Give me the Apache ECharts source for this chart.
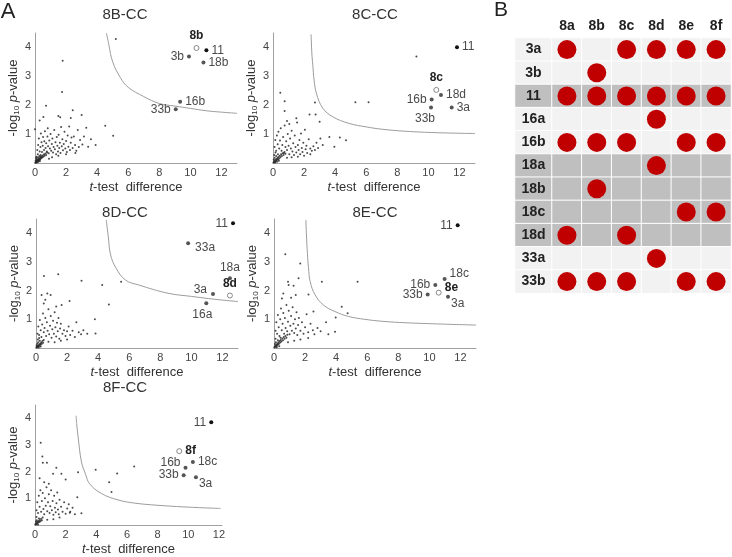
<!DOCTYPE html>
<html><head><meta charset="utf-8">
<script src="https://cdn.jsdelivr.net/npm/echarts@6/dist/echarts.min.js"></script>
<style>html,body{margin:0;padding:0;background:#fff}#c{width:732px;height:557px}</style>
</head><body><div id="c"></div>
<script>
// ---------------- DATA ----------------
const panelTitles = ['8B-CC', '8C-CC', '8D-CC', '8E-CC', '8F-CC'];
const xTickStep = 2;

const cloud8B = [
[0.02,0.01],[0.05,0.03],[0.07,0.02],[0.09,0.06],[0.11,0.04],[0.13,0.08],[0.15,0.05],[0.17,0.1],[0.19,0.07],[0.21,0.12],[0.23,0.09],[0.25,0.14],[0.27,0.1],[0.29,0.16],[0.31,0.12],[0.33,0.19],[0.35,0.14],[0.37,0.21],[0.4,0.17],[0.43,0.23],[0.46,0.19],[0.5,0.26],[0.54,0.22],[0.58,0.3],[0.62,0.25],[0.67,0.33],[0.72,0.28],[0.78,0.36],[0.04,0.08],[0.08,0.12],[0.12,0.16],[0.16,0.03],[0.2,0.2],[0.24,0.05],[0.28,0.24],[0.32,0.07],[0.36,0.28],[0.1,0.22],[0.18,0.3],[0.06,0.18],
[0.15,0.45],[0.2,0.62],[0.25,0.85],[0.3,0.4],[0.35,0.55],[0.38,1.02],[0.42,0.72],[0.45,0.38],[0.5,0.6],[0.52,0.9],[0.58,0.45],[0.6,0.75],[0.64,1.1],[0.68,0.52],[0.72,0.68],[0.76,0.4],[0.8,0.92],[0.84,0.58],[0.88,0.34],[0.92,0.78],[0.96,0.5],[1.0,1.0],[1.04,0.42],[1.08,0.66],[1.12,0.85],[1.16,0.36],[1.2,0.55],[1.24,1.14],[1.28,0.48],[1.32,0.72],[1.36,0.3],[1.4,0.9],[1.44,0.6],[1.48,0.4],[1.52,0.98],[1.56,0.52],[1.6,0.7],[1.64,0.35],[1.68,1.25],[1.72,0.58],[1.76,0.82],[1.8,0.44],[1.85,0.66],[1.9,1.08],[1.95,0.5],[2.0,0.76],[2.05,0.38],[2.1,0.95],[2.15,0.56],[2.2,1.26],[2.25,0.45],[2.3,0.7],[2.35,0.88],[2.42,0.52],[2.5,0.92],[2.58,0.62],[2.66,0.42],[2.75,1.14],[2.82,0.55],[2.9,0.8],[3.05,0.64],[3.15,0.92],[3.3,1.22],[3.42,0.56],[3.6,0.82],[3.9,0.62],[1.1,0.2],[1.5,0.25],[2.0,0.3],[2.6,0.35],[0.9,0.15],
[0.0,1.17],[0.3,1.47],[0.54,1.59],[0.71,1.98],[0.82,1.2],[1.5,1.63],[1.62,1.58],[2.3,1.56],[2.43,1.83],[3.0,1.66],[1.74,2.46],[1.78,3.54],[4.52,1.29],[5.03,0.94],[5.2,4.29]
];
const cloud8C = [
[0.03,0.02],[0.06,0.05],[0.09,0.03],[0.12,0.09],[0.15,0.06],[0.18,0.12],[0.21,0.08],[0.24,0.15],[0.27,0.11],[0.3,0.18],[0.33,0.13],[0.36,0.22],[0.4,0.16],[0.44,0.25],[0.48,0.2],[0.52,0.3],[0.57,0.24],[0.62,0.34],[0.68,0.28],[0.74,0.38],[0.8,0.32],[0.05,0.12],[0.1,0.18],[0.14,0.02],[0.2,0.24],[0.26,0.04],[0.32,0.3],[0.38,0.08],[0.08,0.28],[0.16,0.36],
[0.1,0.55],[0.15,0.8],[0.2,0.42],[0.25,0.95],[0.3,0.65],[0.35,1.08],[0.4,0.5],[0.45,0.78],[0.5,1.2],[0.55,0.42],[0.6,0.62],[0.65,0.9],[0.7,0.35],[0.75,1.3],[0.8,0.55],[0.85,0.75],[0.9,0.45],[0.95,1.0],[1.0,0.6],[1.05,0.3],[1.1,0.85],[1.15,0.5],[1.2,1.12],[1.25,0.4],[1.3,0.68],[1.35,0.28],[1.4,0.95],[1.45,0.55],[1.5,0.36],[1.55,1.4],[1.6,0.62],[1.65,0.45],[1.7,0.8],[1.75,0.3],[1.8,1.02],[1.85,0.52],[1.9,0.38],[1.95,0.7],[2.0,0.25],[2.05,1.15],[2.1,0.48],[2.15,0.6],[2.2,0.35],[2.3,0.82],[2.4,0.5],[2.5,0.42],[2.6,0.58],[2.7,0.45],[2.8,0.7],[2.9,0.52],[3.05,0.85],[3.2,0.62],[1.2,0.2],[1.6,0.22],[2.4,0.3],[0.9,0.18],
[0.47,2.43],[0.75,2.14],[0.75,1.8],[0.9,1.45],[1.05,1.35],[1.5,1.55],[2.35,1.68],[2.74,1.68],[2.7,2.09],[3.0,1.43],[3.63,0.9],[4.3,0.88],[4.7,0.79],[3.95,0.56],[5.3,2.1],[6.15,2.1],[9.23,3.69]
];
const cloud8D = [
[0.02,0.02],[0.05,0.04],[0.08,0.03],[0.1,0.07],[0.13,0.05],[0.16,0.1],[0.19,0.07],[0.22,0.13],[0.25,0.09],[0.28,0.16],[0.31,0.12],[0.34,0.2],[0.38,0.15],[0.42,0.24],[0.46,0.18],[0.5,0.28],[0.04,0.1],[0.09,0.15],[0.14,0.2],[0.18,0.02],[0.24,0.25],[0.3,0.05],[0.12,0.3],[0.2,0.35],
[0.1,0.5],[0.15,0.75],[0.2,0.45],[0.25,0.98],[0.3,0.62],[0.35,0.38],[0.4,0.82],[0.45,1.2],[0.5,0.55],[0.55,0.7],[0.6,1.05],[0.65,0.42],[0.7,0.9],[0.75,0.6],[0.8,1.35],[0.85,0.48],[0.9,0.78],[0.95,1.12],[1.0,0.36],[1.05,0.65],[1.1,0.95],[1.15,0.5],[1.2,1.25],[1.25,0.72],[1.3,0.4],[1.35,0.88],[1.4,0.58],[1.45,1.05],[1.5,0.32],[1.55,0.68],[1.6,0.85],[1.7,0.5],[1.8,0.62],[1.9,0.42],[2.0,0.58],[2.1,0.75],[2.2,0.45],[2.35,0.6],[2.5,0.38],[2.6,0.9],[2.75,0.55],[2.9,0.48],[3.05,0.62],[3.3,0.5],[3.79,1.0],[3.83,0.51],[1.2,0.2],[0.8,0.22],[1.6,0.25],[2.0,0.3],
[0.36,1.85],[0.51,2.51],[0.73,1.9],[0.94,1.85],[0.5,1.55],[0.6,1.68],[1.43,2.57],[1.65,1.5],[2.16,1.64],[1.3,1.45],[2.93,2.35],[4.26,2.2],[4.69,1.52],[5.48,2.31]
];
const cloud8E = [
[0.02,0.02],[0.05,0.05],[0.08,0.04],[0.11,0.09],[0.14,0.06],[0.17,0.12],[0.2,0.09],[0.23,0.16],[0.26,0.12],[0.29,0.2],[0.32,0.15],[0.36,0.24],[0.4,0.19],[0.44,0.28],[0.48,0.23],[0.53,0.33],[0.58,0.27],[0.63,0.38],[0.68,0.32],[0.74,0.42],[0.8,0.36],[0.86,0.46],[0.06,0.14],[0.12,0.2],[0.18,0.03],[0.25,0.27],[0.34,0.06],[0.42,0.36],[0.1,0.32],
[0.1,0.6],[0.15,0.9],[0.2,0.5],[0.25,1.15],[0.3,0.72],[0.35,0.42],[0.4,1.0],[0.45,1.38],[0.5,0.62],[0.55,0.85],[0.6,1.22],[0.65,0.5],[0.7,1.05],[0.75,0.7],[0.8,1.5],[0.85,0.58],[0.9,0.92],[0.95,1.3],[1.0,0.48],[1.05,0.78],[1.1,1.12],[1.15,0.6],[1.2,1.42],[1.25,0.85],[1.3,0.52],[1.35,1.0],[1.4,0.68],[1.45,1.25],[1.5,0.45],[1.55,0.8],[1.6,1.05],[1.7,0.6],[1.8,0.9],[1.9,0.5],[2.0,0.72],[2.1,1.18],[2.2,0.55],[2.35,0.85],[2.5,0.62],[2.6,0.48],[2.8,0.7],[3.0,0.58],[3.35,0.9],[3.5,0.48],[3.93,0.57],[0.9,0.2],[1.3,0.25],[1.7,0.3],[2.2,0.35],
[0.73,3.27],[1.69,2.95],[1.58,2.43],[0.9,2.31],[0.94,2.2],[1.26,2.17],[0.51,1.73],[0.6,1.9],[1.1,1.75],[1.4,1.85],[2.22,1.87],[2.54,1.27],[3.08,2.31],[3.97,1.06],[4.36,1.44],[4.74,1.21],[5.38,2.31]
];
const cloud8F = [
[0.02,0.02],[0.05,0.05],[0.08,0.03],[0.11,0.08],[0.14,0.06],[0.17,0.12],[0.2,0.09],[0.24,0.15],[0.28,0.11],[0.32,0.19],[0.36,0.14],[0.4,0.23],[0.45,0.18],[0.5,0.28],[0.06,0.13],[0.12,0.18],[0.2,0.02],[0.26,0.24],[0.1,0.3],
[0.1,0.55],[0.15,0.85],[0.2,0.45],[0.25,1.1],[0.3,0.68],[0.35,1.3],[0.4,0.5],[0.45,0.9],[0.5,1.2],[0.55,0.6],[0.6,0.4],[0.65,1.0],[0.7,0.72],[0.75,1.42],[0.8,0.52],[0.85,0.85],[0.9,1.15],[0.95,0.45],[1.0,0.7],[1.05,1.3],[1.1,0.55],[1.15,0.9],[1.2,0.38],[1.25,1.1],[1.3,0.65],[1.35,0.48],[1.4,0.82],[1.45,1.22],[1.5,0.58],[1.55,0.4],[1.6,0.95],[1.7,0.68],[1.8,0.5],[1.9,0.85],[2.0,0.42],[2.1,0.62],[2.2,0.78],[2.3,0.5],[2.45,0.65],[2.6,0.4],[2.76,1.04],[2.27,0.46],[3.03,0.44],[0.8,0.2],[1.2,0.22],[1.6,0.28],
[0.37,3.08],[0.48,2.57],[0.51,2.33],[0.78,2.33],[1.39,2.15],[1.72,1.92],[1.18,1.92],[2.0,1.71],[0.3,1.75],[0.6,1.6],[0.9,1.55],[2.81,1.98],[3.96,2.07],[5.36,1.93],[6.47,2.19],[4.84,1.6],[4.99,1.24]
];

const curve8B = [[4.6,4.5],[4.75,4.1],[5.0,3.5],[5.5,2.95],[6,2.62],[7,2.3],[8,2.06],[9,1.97],[10,1.89],[11,1.81],[12,1.76],[13,1.72]];
const curve8C = [[2.45,4.45],[2.5,3.8],[2.56,3.4],[2.65,2.85],[2.8,2.4],[3.2,1.9],[3.85,1.6],[4.9,1.37],[6,1.25],[7,1.17],[8.5,1.1],[10.5,1.05],[13,1.02]];
const curve8D = [[4.52,4.47],[4.65,3.9],[4.8,3.25],[5.16,2.78],[5.76,2.37],[6.6,2.2],[8.5,1.91],[10,1.8],[11.5,1.7],[13,1.62]];
const curve8E = [[2.05,4.47],[2.1,3.8],[2.15,3.3],[2.22,2.8],[2.33,2.31],[2.65,1.85],[3.18,1.5],[3.93,1.27],[4.8,1.1],[5.85,1.0],[7,0.93],[8.5,0.88],[10.5,0.84],[13,0.8]];
const curve8F = [[2.68,4.1],[2.72,3.8],[2.81,3.32],[3.03,2.37],[3.3,1.9],[3.57,1.54],[4.34,1.18],[5.42,0.94],[6.51,0.82],[8,0.74],[10,0.67],[12.1,0.62]];

const names8B = ['8b','11','3b','18b','16b','33b'];
const x8B = [10.39,11.03,9.91,10.84,9.34,9.06];
const y8B = [3.98,3.90,3.69,3.48,2.12,1.86];
const names8C = ['11','8c','18d','16b','33b','3a'];
const x8C = [11.84,10.51,10.81,10.21,10.17,11.5];
const y8C = [4.01,2.53,2.35,2.20,1.92,1.92];
const names8D = ['11','33a','18a','8d','3a','16a'];
const x8D = [12.68,9.79,12.48,12.48,11.39,10.96];
const y8D = [4.35,3.65,2.43,1.83,1.88,1.56];
const names8E = ['11','18c','16b','8e','33b','3a'];
const x8E = [11.82,10.98,10.38,10.6,9.89,11.2];
const y8E = [4.28,2.41,2.20,1.93,1.87,1.79];
const names8F = ['11','8f','18c','16b','33b','3a'];
const x8F = [11.5,9.41,10.3,9.82,9.7,10.5];
const y8F = [3.85,2.77,2.36,2.15,1.87,1.79];

const tableRows = ['3a','3b','11','16a','16b','18a','18b','18c','18d','33a','33b'];
const tableCols = ['8a','8b','8c','8d','8e','8f'];
const rowShade = [0,0,1,0,0,1,1,1,1,0,0];
const hits = [
 [1,0,1,1,1,1],
 [0,1,0,0,0,0],
 [1,1,1,1,1,1],
 [0,0,0,1,0,0],
 [1,1,1,0,1,1],
 [0,0,0,1,0,0],
 [0,1,0,0,0,0],
 [0,0,0,0,1,1],
 [1,0,1,0,0,0],
 [0,0,0,1,0,0],
 [1,1,1,0,1,1]
];

// ---------------- LAYOUT / STYLE ----------------
const FONT = 'Liberation Sans, Arial, sans-serif';
const layout = [
 {left:35, top:33, width:202, height:130, xmax:13, tx:125, ty:15},
 {left:273, top:33, width:202, height:130, xmax:13, tx:375, ty:15},
 {left:36, top:219, width:202, height:129, xmax:13, tx:125, ty:213},
 {left:274, top:219, width:202, height:129, xmax:13, tx:375, ty:213},
 {left:35, top:405, width:187, height:126, xmax:12.2, tx:125, ty:388}
];
// label placement: [position, dx, dy]
const labelPlace = [
 {'8b':['top',0,0],'11':['right',0,0],'3b':['left',0,0],'18b':['right',0,0],'16b':['right',0,0],'33b':['left',0,0]},
 {'11':['right',0,0],'8c':['top',0,0],'18d':['right',0,0],'16b':['left',0,0],'33b':['bottom',-6,0],'3a':['right',0,0]},
 {'11':['left',0,0],'33a':['right',2,4],'18a':['top',0,0],'8d':['top',0,0],'3a':['left',-1,-4],'16a':['bottom',-4,0]},
 {'11':['left',0,0],'18c':['right',0,-5],'16b':['left',0,0],'8e':['right',0,-5],'33b':['left',0,0],'3a':['right',-2,7]},
 {'11':['left',0,0],'8f':['right',0,0],'18c':['right',0,0],'16b':['left',0,-5],'33b':['left',0,0],'3a':['right',-2,6]}
];

const clouds = [cloud8B, cloud8C, cloud8D, cloud8E, cloud8F];
const curves = [curve8B, curve8C, curve8D, curve8E, curve8F];
const nameSets = [names8B, names8C, names8D, names8E, names8F];
const xSets = [x8B, x8C, x8D, x8E, x8F];
const ySets = [y8B, y8C, y8D, y8E, y8F];

const grids = [], xAxes = [], yAxes = [], series = [], graphics = [];

layout.forEach((L, i) => {
  grids.push({left:L.left, top:L.top, width:L.width, height:L.height, containLabel:false});
  xAxes.push({
    gridIndex:i, type:'value', min:0, max:L.xmax, interval:xTickStep,
    axisLine:{show:true, lineStyle:{color:'#a0a0a0', width:1}}, axisTick:{show:false}, splitLine:{show:false},
    axisLabel:{fontSize:11, color:'#444', fontFamily:FONT, margin:4, formatter:v => (v % 2 === 0 ? String(v) : '')},
    name:'{i|t}{n|-test  difference}', nameLocation:'middle', nameGap:18,
    nameTextStyle:{rich:{i:{fontStyle:'italic', fontSize:13, color:'#333', fontFamily:FONT}, n:{fontSize:13, color:'#333', fontFamily:FONT}}}
  });
  yAxes.push({
    gridIndex:i, type:'value', min:0, max:4.5, interval:1,
    axisLine:{show:true, lineStyle:{color:'#a0a0a0', width:1}}, axisTick:{show:false}, splitLine:{show:false},
    axisLabel:{fontSize:11, color:'#444', fontFamily:FONT, margin:4, formatter:v => (v > 0 && v % 1 === 0 ? String(v) : '')},
    name:'{n|-log}{s|10}{n| }{i|p}{n|-value}', nameLocation:'middle', nameGap:12, nameRotate:90,
    nameTextStyle:{rich:{
      n:{fontSize:13, color:'#333', fontFamily:FONT, lineHeight:15},
      s:{fontSize:8, color:'#333', fontFamily:FONT, verticalAlign:'bottom', lineHeight:15, padding:[4,0,0,0]},
      i:{fontSize:13, color:'#333', fontFamily:FONT, fontStyle:'italic', lineHeight:15}
    }}
  });
  series.push({
    type:'scatter', xAxisIndex:i, yAxisIndex:i, data:clouds[i], symbolSize:2,
    itemStyle:{color:'#2a2a2a', opacity:0.85}, silent:true, z:2
  });
  series.push({
    type:'line', xAxisIndex:i, yAxisIndex:i, data:curves[i], smooth:0.4, showSymbol:false,
    lineStyle:{color:'#9c9c9c', width:1}, silent:true, z:1
  });
  const place = labelPlace[i];
  const items = nameSets[i].map((nm, k) => {
    const isCmp = /^8[a-f]$/.test(nm);
    const p = place[nm];
    return {
      value:[xSets[i][k], ySets[i][k]], name:nm,
      symbolSize: isCmp ? 5 : 4,
      itemStyle: isCmp ? {color:'#fff', borderColor:'#888', borderWidth:1, opacity:1}
                      : {color: nm === '11' ? '#111' : '#555', opacity:1},
      label:{show:true, formatter:nm, position:p[0], offset:[p[1], p[2]], distance:3,
        fontSize:12, fontFamily:FONT, color: isCmp ? '#222' : '#4a4a4a', fontWeight: isCmp ? 'bold' : 'normal'}
    };
  });
  series.push({type:'scatter', xAxisIndex:i, yAxisIndex:i, data:items, z:5, silent:true});
  graphics.push({type:'text', x:L.tx, y:L.ty, style:{text:panelTitles[i], fontSize:15, fontFamily:FONT, fill:'#333', textAlign:'center', textVerticalAlign:'middle'}});
});

// ---- Table B ----
const tRowH = 23.2;
const tTop = 38, tH = tRowH * tableRows.length;
const gLab = grids.length;
grids.push({left:515, top:tTop, width:37, height:tH});
grids.push({left:552, top:tTop, width:179, height:tH});
xAxes.push({gridIndex:gLab, type:'category', data:[''], show:false});
yAxes.push({gridIndex:gLab, type:'category', data:tableRows, inverse:true, show:false});
xAxes.push({gridIndex:gLab+1, type:'category', data:tableCols, position:'top',
  axisLine:{show:false}, axisTick:{show:false}, splitLine:{show:false},
  axisLabel:{fontSize:14, fontWeight:'bold', color:'#222', fontFamily:FONT, margin:5}});
yAxes.push({gridIndex:gLab+1, type:'category', data:tableRows, inverse:true, show:false});

const labCells = tableRows.map((r, ri) => [0, ri, rowShade[ri]]);
const bodyCells = [];
const dotCells = [];
tableRows.forEach((r, ri) => {
  tableCols.forEach((c, ci) => {
    bodyCells.push([ci, ri, rowShade[ri]]);
    if (hits[ri][ci]) dotCells.push([ci, ri]);
  });
});
const hm1 = series.length;
series.push({type:'heatmap', xAxisIndex:gLab, yAxisIndex:gLab, data:labCells,
  itemStyle:{borderColor:'#fff', borderWidth:1},
  label:{show:true, formatter:p => tableRows[p.value[1]], fontSize:14, fontWeight:'bold', color:'#222', fontFamily:FONT},
  silent:true});
const hm2 = series.length;
series.push({type:'heatmap', xAxisIndex:gLab+1, yAxisIndex:gLab+1, data:bodyCells,
  itemStyle:{borderColor:'#fff', borderWidth:1}, silent:true});
series.push({type:'scatter', xAxisIndex:gLab+1, yAxisIndex:gLab+1, data:dotCells, symbolSize:19,
  itemStyle:{color:'#c00000', opacity:1}, silent:true, z:5});

graphics.push({type:'text', x:8, y:12, style:{text:'A', fontSize:22, fontFamily:FONT, fill:'#222', textAlign:'center', textVerticalAlign:'middle'}});
graphics.push({type:'text', x:501, y:10, style:{text:'B', fontSize:21, fontFamily:FONT, fill:'#222', textAlign:'center', textVerticalAlign:'middle'}});

const chart = echarts.init(document.getElementById('c'), null, {renderer:'canvas'});
chart.setOption({
  animation:false,
  backgroundColor:'#fff',
  grid:grids, xAxis:xAxes, yAxis:yAxes, series:series, graphic:graphics,
  visualMap:[{type:'piecewise', show:false, seriesIndex:[hm1, hm2], dimension:2,
    pieces:[{value:0, color:'#f2f2f2'}, {value:1, color:'#bfbfbf'}]}]
});
</script></body></html>
